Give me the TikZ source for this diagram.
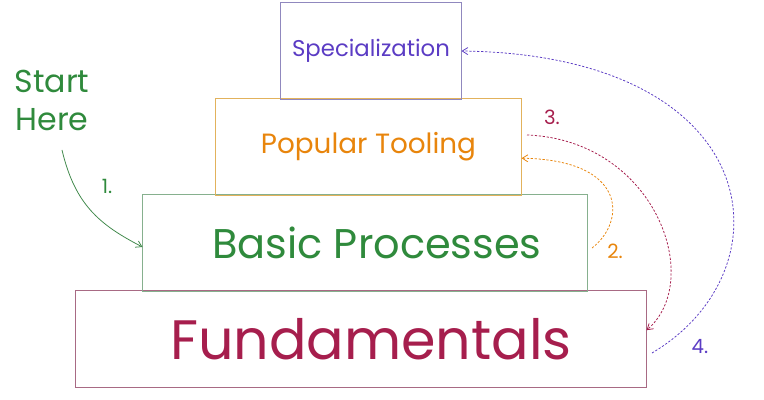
\documentclass[tikz,border=0pt]{standalone}
\usepackage{fontspec}
\setmainfont{Poppins}
\usetikzlibrary{arrows.meta}

\definecolor{specC}{HTML}{5B3CC4}
\definecolor{specL}{HTML}{9088BE}
\definecolor{toolC}{HTML}{E8850C}
\definecolor{toolL}{HTML}{E2B25C}
\definecolor{basicC}{HTML}{2F8A3C}
\definecolor{basicL}{HTML}{86B08E}
\definecolor{fundC}{HTML}{A61E4D}
\definecolor{fundL}{HTML}{A86A84}

\begin{document}
\begin{tikzpicture}[x=0.025cm,y=-0.025cm,
  layer/.style={draw, line width=0.7pt, minimum height=2.4cm, inner sep=0pt},
  step num/.style={font=\fontsize{14}{16}\selectfont},
  link/.style={line width=0.55pt, -{Straight Barb[length=4pt,width=5pt]}},
  dotted link/.style={link, dash pattern=on 1.6pt off 1.2pt}]

\useasboundingbox (0,0) rectangle (764,400);

% the layers
\node[layer, draw=fundL, text=fundC, minimum width=14.25cm,
  font=\fontsize{39.5}{46}\selectfont] (fund) at (361,339) {\hspace*{0.5cm}Fundamentals};
\node[layer, draw=basicL, text=basicC, minimum width=11.1cm,
  font=\fontsize{29.5}{34}\selectfont] (basic) at (365,243) {\hspace*{0.6cm}Basic Processes};
\node[layer, draw=toolL, text=toolC, minimum width=7.625cm,
  font=\fontsize{19.8}{23}\selectfont] (tool) at (368.5,147) {Popular Tooling};
\node[layer, draw=specL, text=specC, minimum width=4.5cm,
  font=\fontsize{16.2}{19}\selectfont] (spec) at (371,51) {Specialization};

% start
\node[text=basicC, align=center, font=\fontsize{22.5}{27}\selectfont] (start) at (52,100) {Start\\Here};

% 1.
\coordinate (s1) at (62,150);
\draw[link, draw=basicC!80!gray] (s1) .. controls (75,205) and (100,225) .. ([yshift=-0.1cm]basic.west);
\node[step num, text=basicC] (n1) at (107,186) {1.};

% 2.
\coordinate (s2) at (592,248);
\draw[dotted link, draw=toolC] (s2) .. controls (626,222) and (628,160) .. ([yshift=-0.28cm]tool.east);
\node[step num, text=toolC] (n2) at (615,251) {2.};

% 3.
\coordinate (s3) at (527,135);
\draw[dotted link, draw=fundC] (s3) .. controls (655,140) and (705,280) .. ([yshift=0.22cm]fund.east);
\node[step num, text=fundC] (n3) at (552,117) {3.};

% 4.
\coordinate (s4) at (652,353);
\draw[dotted link, draw=specC] (s4) .. controls (792,270) and (767,55) .. (spec.east);
\node[step num, text=specC] (n4) at (700,347) {4.};

\end{tikzpicture}
\end{document}
